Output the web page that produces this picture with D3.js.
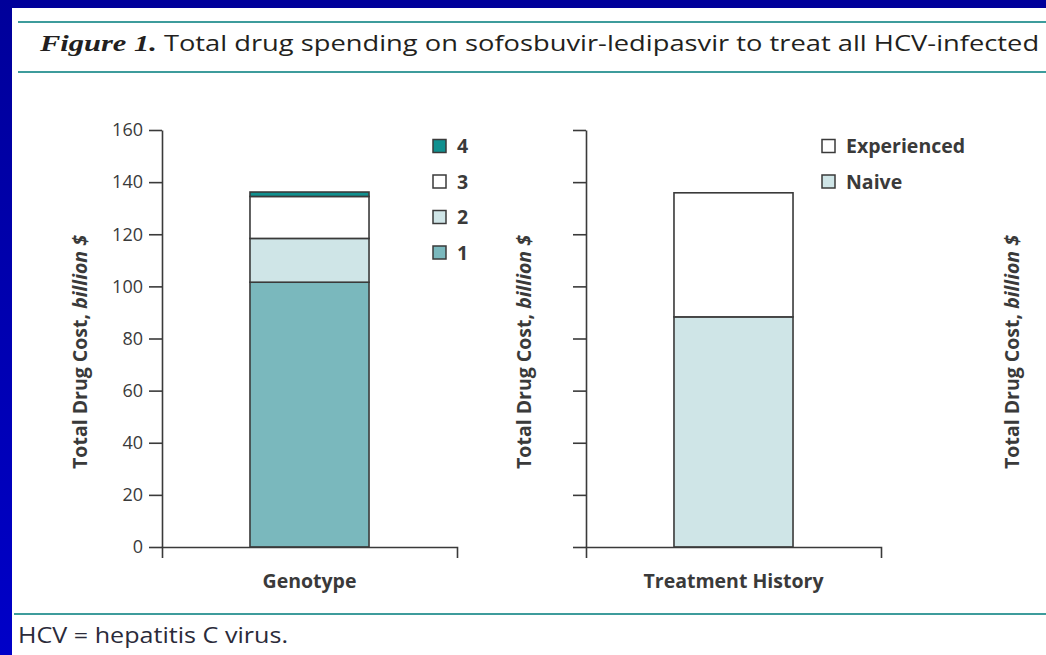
<!DOCTYPE html>
<html>
<head>
<meta charset="utf-8">
<script src="https://cdn.jsdelivr.net/npm/d3@7"></script>
<style>
  html, body { margin: 0; padding: 0; background: #0000a0; }
  svg { display: block; }
</style>
</head>
<body>
<svg id="chart" width="1046" height="655"></svg>
<script>
// Spending by genotype (billion $), stacked bottom to top
const genotypeKeys = ["1", "2", "3", "4"];
const genotypeValues = [101.6, 16.8, 16.1, 1.7];
const genotypeColors = ["#7ab8bd", "#cfe5e7", "#ffffff", "#10908f"];

// Spending by treatment history (billion $), stacked bottom to top
const historyKeys = ["Naive", "Experienced"];
const historyValues = [88.3, 47.6];
const historyColors = ["#cfe5e7", "#ffffff"];

const yTicks = [0, 20, 40, 60, 80, 100, 120, 140, 160];
const titleLead = "Figure 1.";
const titleRest = " Total drug spending on sofosbuvir-ledipasvir to treat all HCV-infected";
const footnote = "HCV = hepatitis C virus.";

const svg = d3.select("#chart");
const W = 1046, H = 655;
const ink = "#3a3a3a";
const teal = "#3d9c9c";
const font = "'Open Sans', sans-serif";

// page background: dark blue frame with a white sheet
const grad = svg.append("defs").append("linearGradient")
  .attr("id", "frame").attr("x1", 0).attr("y1", 0).attr("x2", 0).attr("y2", 1);
grad.append("stop").attr("offset", "0%").attr("stop-color", "#00009a");
grad.append("stop").attr("offset", "100%").attr("stop-color", "#0000c8");
svg.append("rect").attr("width", W).attr("height", H).attr("fill", "url(#frame)");
svg.append("rect").attr("x", 12).attr("y", 8).attr("width", W - 12).attr("height", H - 8).attr("fill", "#fff");

// title rules and title (set wide, as in the journal layout)
svg.append("line").attr("x1", 18).attr("x2", W).attr("y1", 22).attr("y2", 22)
  .attr("stroke", teal).attr("stroke-width", 2);
svg.append("line").attr("x1", 18).attr("x2", W).attr("y1", 72).attr("y2", 72)
  .attr("stroke", teal).attr("stroke-width", 2);
const titleG = svg.append("g");
const title = titleG.append("text").attr("x", 0).attr("y", 0)
  .attr("fill", "#231f20").style("font-size", "21.5px");
title.append("tspan").text(titleLead)
  .style("font-family", "'Liberation Serif', serif").style("font-style", "italic").style("font-weight", "bold")
  .style("font-size", "24px");
title.append("tspan").text(titleRest).style("font-family", font);
// stretch horizontally so the line spans the sheet, but stay inside it
const natural = title.node().getComputedTextLength();
const sx = Math.min(1.27, (W - 4 - 40) / natural);
titleG.attr("transform", `translate(40,51) scale(${sx},1)`);

// footnote
svg.append("line").attr("x1", 14).attr("x2", W).attr("y1", 614).attr("y2", 614)
  .attr("stroke", teal).attr("stroke-width", 2);
svg.append("text").attr("x", 18).attr("y", 643).text(footnote)
  .attr("textLength", 270).attr("lengthAdjust", "spacingAndGlyphs")
  .attr("fill", "#2b2b3a").style("font-family", font).style("font-size", "21px");

const y = d3.scaleLinear().domain([0, 160]).range([547, 130]);

function yLabel(x) {
  const t = svg.append("text")
    .attr("transform", `translate(${x},352) rotate(-90)`)
    .attr("text-anchor", "middle")
    .attr("fill", ink)
    .style("font-family", font).style("font-size", "19.5px").style("font-weight", "bold");
  t.append("tspan").text("Total Drug Cost, ");
  t.append("tspan").text("billion $").style("font-style", "italic");
}

function panel(x0, x1, category, keys, values, colors, showLabels, legendX) {
  const x = d3.scaleBand().domain([category]).range([x0, x1])
    .paddingInner(0.425).paddingOuter(0.425);

  // stacked segments
  const stack = d3.stack().keys(keys)([Object.fromEntries(keys.map((k, i) => [k, values[i]]))]);
  svg.append("g").selectAll("rect").data(stack).join("rect")
    .attr("x", x(category))
    .attr("width", x.bandwidth())
    .attr("y", d => y(d[0][1]))
    .attr("height", d => y(d[0][0]) - y(d[0][1]))
    .attr("fill", (d, i) => colors[i])
    .attr("stroke", ink).attr("stroke-width", 1.6);

  // y axis
  const ya = svg.append("g").attr("transform", `translate(${x0},0)`)
    .call(d3.axisLeft(y).tickValues(yTicks).tickSize(13).tickSizeOuter(0).tickPadding(6)
      .tickFormat(showLabels ? d3.format("d") : () => ""));
  ya.selectAll("path, line").attr("stroke", ink).attr("stroke-width", 1.6);
  ya.selectAll("text").attr("fill", ink).style("font-family", font).style("font-size", "18px");

  // x axis baseline with end ticks
  const xa = svg.append("g").attr("transform", `translate(0,${y(0)})`)
    .call(d3.axisBottom(x).tickValues([]).tickSizeOuter(11));
  xa.select("path").attr("stroke", ink).attr("stroke-width", 1.6).attr("fill", "none");

  svg.append("text").attr("x", (x0 + x1) / 2).attr("y", 588)
    .attr("text-anchor", "middle").attr("fill", ink)
    .style("font-family", font).style("font-size", "19.5px").style("font-weight", "bold")
    .text(category);

  // legend, top entry first
  const order = keys.map((k, i) => i).reverse();
  const lg = svg.append("g");
  order.forEach((i, r) => {
    const cy = 146 + r * 35.5;
    lg.append("rect").attr("x", legendX).attr("y", cy - 6.5).attr("width", 13).attr("height", 13)
      .attr("fill", colors[i]).attr("stroke", ink).attr("stroke-width", 1.5);
    lg.append("text").attr("x", legendX + 24).attr("y", cy).attr("dy", "0.36em")
      .attr("fill", ink)
      .style("font-family", font).style("font-size", "19.5px").style("font-weight", "bold")
      .text(keys[i]);
  });
}

panel(162, 457, "Genotype", genotypeKeys, genotypeValues, genotypeColors, true, 433);
panel(586, 881, "Treatment History", historyKeys, historyValues, historyColors, false, 822);

yLabel(87);
yLabel(531);
yLabel(1019);
</script>
</body>
</html>
